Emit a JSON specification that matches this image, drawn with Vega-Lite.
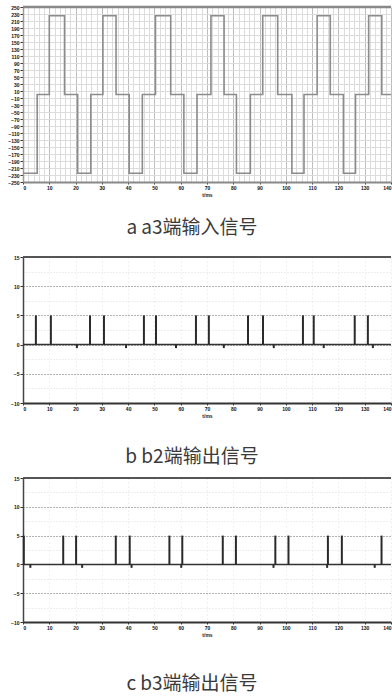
{
  "$schema": "https://vega.github.io/schema/vega-lite/v6.json",
  "padding": {"left": 7, "top": 5, "right": 0, "bottom": 0},
  "bounds": "flush",
  "spacing": 75,
  "datasets": {
    "a": [{"t":0,"v":-225},{"t":5.4,"v":0},{"t":10,"v":225},{"t":15.8,"v":0},{"t":20.8,"v":-225},{"t":25.8,"v":0},{"t":30.4,"v":225},{"t":35.4,"v":0},{"t":40.4,"v":-225},{"t":45.4,"v":0},{"t":50.4,"v":225},{"t":56.2,"v":0},{"t":61.2,"v":-225},{"t":66.2,"v":0},{"t":71.5,"v":225},{"t":76.5,"v":0},{"t":81.2,"v":-225},{"t":86.5,"v":0},{"t":91.2,"v":225},{"t":96.9,"v":0},{"t":102.3,"v":-225},{"t":106.9,"v":0},{"t":111.9,"v":225},{"t":116.9,"v":0},{"t":121.9,"v":-225},{"t":126.5,"v":0},{"t":131.5,"v":225},{"t":136.5,"v":0},{"t":140,"v":0}],
    "b": [{"t":4.9,"v":5},{"t":10.6,"v":5},{"t":25.5,"v":5},{"t":30.8,"v":5},{"t":46,"v":5},{"t":50.6,"v":5},{"t":65.8,"v":5},{"t":70.7,"v":5},{"t":85.6,"v":5},{"t":91.3,"v":5},{"t":106.5,"v":5},{"t":110.6,"v":5},{"t":126.2,"v":5},{"t":131.2,"v":5},
          {"t":20.5,"v":-0.6},{"t":39.2,"v":-0.6},{"t":58.2,"v":-0.6},{"t":76.4,"v":-0.6},{"t":95.4,"v":-0.6},{"t":114.4,"v":-0.6},{"t":133.1,"v":-0.6}],
    "c": [{"t":0.3,"v":5},{"t":15.3,"v":5},{"t":20.2,"v":5},{"t":35.3,"v":5},{"t":40.6,"v":5},{"t":55.7,"v":5},{"t":60.6,"v":5},{"t":76,"v":5},{"t":81,"v":5},{"t":96,"v":5},{"t":101,"v":5},{"t":116,"v":5},{"t":121.3,"v":5},{"t":136.4,"v":5},
          {"t":2.8,"v":-0.6},{"t":22.5,"v":-0.6},{"t":41.3,"v":-0.6},{"t":60.2,"v":-0.6},{"t":95.3,"v":-0.6},{"t":115.7,"v":-0.6},{"t":133.8,"v":-0.6}]
  },
  "vconcat": [
    {
      "width": 368, "height": 175,
      "title": {"text": "a  a3端输入信号", "orient": "bottom", "offset": 22, "dx": -15},
      "layer": [
        {
          "data": {"name": "a"},
          "mark": {"type": "line", "interpolate": "step-after", "color": "#8c8c8c", "strokeWidth": 1.6},
          "encoding": {
            "x": {"field": "t", "type": "quantitative", "scale": {"domain": [0, 140], "nice": false, "zero": false},
              "axis": {"tickCount": 70, "grid": true, "labelFlush": true,
                "gridColor": {"condition": {"test": "datum.value % 10 === 0", "value": "#bdbdbd"}, "value": "#dcdcdc"},
                "labelExpr": "datum.value % 10 === 0 ? datum.label : ''",
                "tickSize": {"condition": {"test": "datum.value % 10 === 0", "value": 2}, "value": 0},
                "domainColor": "#888", "domainWidth": 2, "title": "t/ms", "titlePadding": 2}},
            "y": {"field": "v", "type": "quantitative", "scale": {"domain": [-250, 250], "nice": false},
              "axis": {"values": [-250,-230,-210,-190,-170,-150,-130,-110,-90,-70,-50,-30,-10,10,30,50,70,90,110,130,150,170,190,210,230,250],
                "tickCount": 40, "labelFlush": false,
                "grid": true, "gridColor": "#dcdcdc", "domainColor": "#999", "domainWidth": 1.5, "tickSize": 3, "title": null}}
          }
        },
        {
          "data": {"values": [{}]},
          "mark": {"type": "rule", "color": "#888", "strokeWidth": 2.5},
          "encoding": {"y": {"datum": 250}}
        }
      ]
    },
    {
      "width": 368, "height": 146,
      "title": {"text": "b  b2端输出信号", "orient": "bottom", "offset": 30, "dx": -15},
      "layer": [
        {
          "data": {"values": [{}]},
          "mark": {"type": "rule", "color": "#333", "strokeWidth": 1.5},
          "encoding": {"y": {"datum": 0}}
        },
        {
          "data": {"name": "b"},
          "mark": {"type": "rule", "color": "#2a2a2a", "strokeWidth": 2},
          "encoding": {
            "x": {"field": "t", "type": "quantitative", "scale": {"domain": [0, 140], "nice": false, "zero": false},
              "axis": {"values": [0,10,20,30,40,50,60,70,80,90,100,110,120,130,140], "tickCount": 30, "labelFlush": true, "grid": true, "gridColor": "#e0e0e0", "gridDash": [1, 3],
                "domainColor": "#333", "domainWidth": 2, "tickSize": 2, "title": "t/ms", "titlePadding": 2}},
            "y": {"field": "v", "type": "quantitative", "scale": {"domain": [-10, 15], "nice": false},
              "axis": {"values": [-10,-7.5,-5,-2.5,0,2.5,5,7.5,10,12.5,15], "tickCount": 30, "labelFlush": false, "labelExpr": "datum.value % 5 === 0 ? datum.label : ''",
                "grid": true, "gridDash": [1, 2],
                "gridColor": {"condition": {"test": "datum.value % 5 === 0", "value": "#666"}, "value": "#dcdcdc"},
                "tickSize": {"condition": {"test": "datum.value % 5 === 0", "value": 3}, "value": 0},
                "domainColor": "#444", "domainWidth": 1.5, "title": null}},
            "y2": {"datum": 0}
          }
        },
        {
          "data": {"values": [{}]},
          "mark": {"type": "rule", "color": "#555", "strokeWidth": 2},
          "encoding": {"y": {"datum": 15}}
        }
      ]
    },
    {
      "width": 368, "height": 144,
      "title": {"text": "c  b3端输出信号", "orient": "bottom", "offset": 38, "dx": -15},
      "layer": [
        {
          "data": {"values": [{}]},
          "mark": {"type": "rule", "color": "#333", "strokeWidth": 1.5},
          "encoding": {"y": {"datum": 0}}
        },
        {
          "data": {"name": "c"},
          "mark": {"type": "rule", "color": "#2a2a2a", "strokeWidth": 2},
          "encoding": {
            "x": {"field": "t", "type": "quantitative", "scale": {"domain": [0, 140], "nice": false, "zero": false},
              "axis": {"values": [0,10,20,30,40,50,60,70,80,90,100,110,120,130,140], "tickCount": 30, "labelFlush": true, "grid": true, "gridColor": "#e0e0e0", "gridDash": [1, 3],
                "domainColor": "#333", "domainWidth": 2, "tickSize": 2, "title": "t/ms", "titlePadding": 2}},
            "y": {"field": "v", "type": "quantitative", "scale": {"domain": [-10, 15], "nice": false},
              "axis": {"values": [-10,-7.5,-5,-2.5,0,2.5,5,7.5,10,12.5,15], "tickCount": 30, "labelFlush": false, "labelExpr": "datum.value % 5 === 0 ? datum.label : ''",
                "grid": true, "gridDash": [1, 2],
                "gridColor": {"condition": {"test": "datum.value % 5 === 0", "value": "#666"}, "value": "#dcdcdc"},
                "tickSize": {"condition": {"test": "datum.value % 5 === 0", "value": 3}, "value": 0},
                "domainColor": "#444", "domainWidth": 1.5, "title": null}},
            "y2": {"datum": 0}
          }
        },
        {
          "data": {"values": [{}]},
          "mark": {"type": "rule", "color": "#555", "strokeWidth": 2},
          "encoding": {"y": {"datum": 15}}
        }
      ]
    }
  ],
  "config": {
    "view": {"stroke": null},
    "font": "Liberation Sans",
    "axis": {"labelFontSize": 5, "labelFontWeight": "bold", "labelColor": "#111", "tickColor": "#333", "labelPadding": 1,
      "labelOverlap": false,
      "titleFontSize": 5, "titleFontWeight": "bold", "titleColor": "#222"},
    "title": {"font": "Noto Sans CJK SC", "fontSize": 19, "fontWeight": "normal", "color": "#3a3a3a"}
  }
}
